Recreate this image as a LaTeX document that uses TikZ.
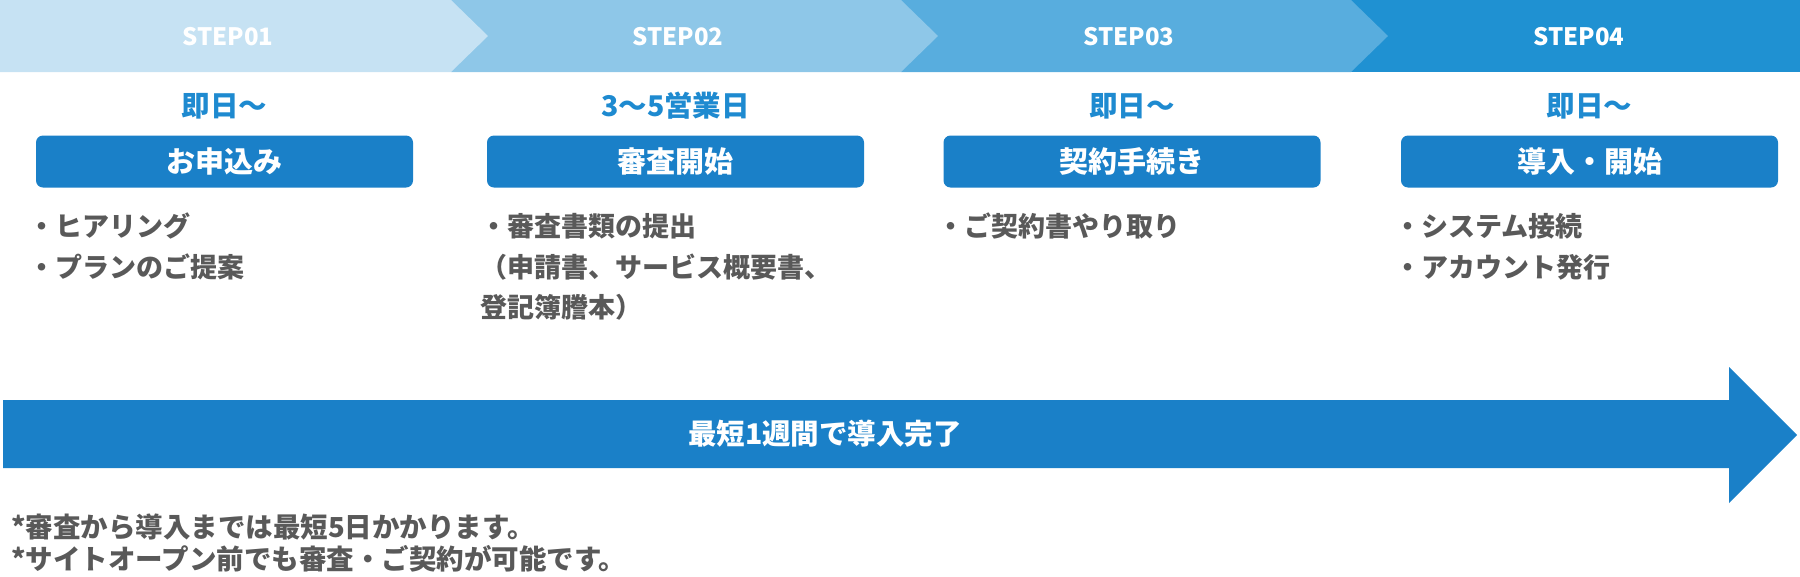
\documentclass[tikz,border=0pt]{standalone}
\usepackage{fontspec}
\setmainfont{Noto Sans CJK JP}
\usepackage{xcolor}
\usepackage{tikz}
\definecolor{steponecol}{RGB}{198,226,243}
\definecolor{steptwocol}{RGB}{142,199,232}
\definecolor{stepthreecol}{RGB}{88,173,222}
\definecolor{stepfourcol}{RGB}{31,145,210}
\definecolor{boxcol}{RGB}{26,128,200}
\definecolor{timecol}{RGB}{30,138,208}
\definecolor{notegray}{RGB}{89,89,89}

\begin{document}
\begin{tikzpicture}[x=1pt, y=-1pt,
    steplabel/.style={text=white, inner sep=0,
      font=\bfseries\fontsize{24}{30}\selectfont},
    timelabel/.style={text=timecol, inner sep=0,
      font=\bfseries\fontsize{28.5}{34}\selectfont},
    titlebox/.style={fill=boxcol, rounded corners=7pt, text=white,
      minimum width=377pt, minimum height=52pt, inner sep=0,
      font=\bfseries\fontsize{29}{34}\selectfont},
    itemline/.style={anchor=west, text=notegray, inner sep=0,
      font=\bfseries\fontsize{27}{32}\selectfont},
    noteline/.style={itemline, font=\bfseries\fontsize{27.5}{32}\selectfont}]

    \useasboundingbox (0,0) rectangle (1800,576);

    %% step bar
    \fill[stepfourcol] (1351,0) rectangle (1800,72);
    \fill[stepthreecol] (901,0) -- (1351,0) -- (1388,36) -- (1351,72)
      -- (901,72) -- cycle;
    \fill[steptwocol] (451,0) -- (901,0) -- (938,36) -- (901,72)
      -- (451,72) -- cycle;
    \fill[steponecol] (0,0) -- (451,0) -- (488,36) -- (451,72)
      -- (0,72) -- cycle;

    \node[steplabel] (s1) at (228,37) {STEP01};
    \node[steplabel] (s2) at (678,37) {STEP02};
    \node[steplabel] (s3) at (1129,37) {STEP03};
    \node[steplabel] (s4) at (1579,37) {STEP04};

    %% time and title boxes
    \node[timelabel] (t1) at (224.5,106) {即日～};
    \node[timelabel] (t2) at (675.5,106) {3～5営業日};
    \node[timelabel] (t3) at (1132,106) {即日～};
    \node[timelabel] (t4) at (1589.5,106) {即日～};

    \node[titlebox] (b1) at (224.5,161.5) {お申込み};
    \node[titlebox] (b2) at (675.5,161.5) {審査開始};
    \node[titlebox] (b3) at (1132,161.5) {契約手続き};
    \node[titlebox] (b4) at (1589.5,161.5) {導入・開始};

    %% item lists
    \node[itemline] (i1a) at (28,226) {・ヒアリング};
    \node[itemline] (i1b) at (28,267) {・プランのご提案};

    \node[itemline] (i2a) at (480,226) {・審査書類の提出};
    \node[itemline] (i2b) at (480,267) {（申請書、サービス概要書、};
    \node[itemline] (i2c) at (480,307) {登記簿謄本）};

    \node[itemline] (i3a) at (937,226) {・ご契約書やり取り};

    \node[itemline] (i4a) at (1394,226) {・システム接続};
    \node[itemline] (i4b) at (1394,267) {・アカウント発行};

    %% big arrow
    \fill[boxcol] (3,400) -- (1729,400) -- (1729,367) -- (1797,435)
      -- (1729,503) -- (1729,468) -- (3,468) -- cycle;
    \node[text=white, inner sep=0,
      font=\bfseries\fontsize{28.5}{34}\selectfont] (span) at (825,434)
      {最短1週間で導入完了};

    %% notes
    \node[noteline] (n1) at (11,527) {*審査から導入までは最短5日かかります。};
    \node[noteline] (n2) at (11,559) {*サイトオープン前でも審査・ご契約が可能です。};

\end{tikzpicture}
\end{document}
